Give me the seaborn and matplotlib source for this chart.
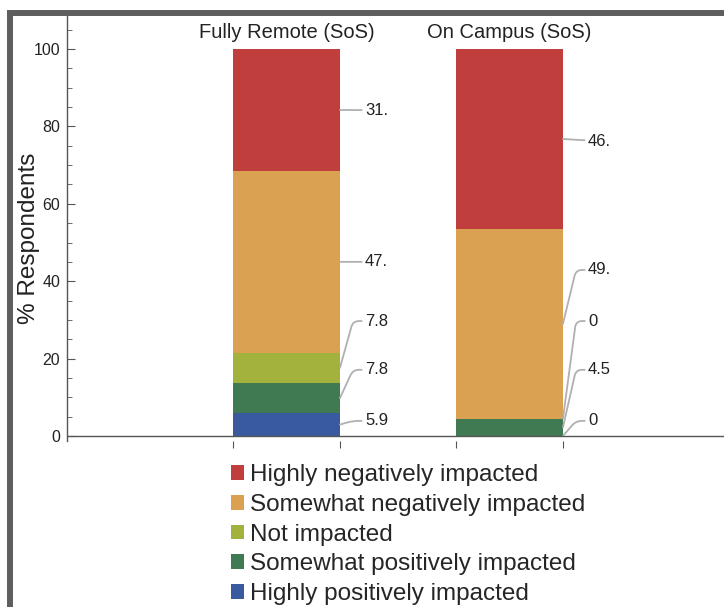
import math
import numpy as np
import pandas as pd
import matplotlib
matplotlib.use("Agg")
import matplotlib.pyplot as plt
from matplotlib.patches import Patch, Rectangle
import seaborn as sns

# ---------------- data ----------------
groups = ["Fully Remote (SoS)", "On Campus (SoS)"]
levels = ["Highly positively impacted", "Somewhat positively impacted", "Not impacted",
          "Somewhat negatively impacted", "Highly negatively impacted"]
remote_values = [5.9, 7.8, 7.8, 47.0, 31.5]
campus_values = [0.0, 4.5, 0.0, 49.0, 46.5]
remote_labels = ["5.9", "7.8", "7.8", "47.", "31."]
campus_labels = ["0", "4.5", "0", "49.", "46."]
y_ticks = [0, 20, 40, 60, 80, 100]

# ---------------- style / layout ----------------
level_colors = ["#3A5AA0", "#3F7A52", "#A3B23C", "#DBA152", "#C03E3B"]
# label vertical slots (layout positions for the callouts, in axis units)
remote_label_y = [3.9, 17.1, 29.7, 45.0, 84.2]
campus_label_y = [3.9, 17.1, 29.7, 42.9, 76.2]

sns.set_style("white")
plt.rcParams["font.family"] = ["Liberation Sans", "DejaVu Sans"]

W, H = 724, 607
fig = plt.figure(figsize=(W / 100, H / 100), dpi=100)
ax_left_px, ax_bottom_px, ax_top_px = 67, 440.6, 15
ax = fig.add_axes([ax_left_px / W, 1 - ax_bottom_px / H, 1 - ax_left_px / W,
                   (ax_bottom_px - ax_top_px) / H])

# long table
rows = []
for g, vals in zip(groups, [remote_values, campus_values]):
    cum = 0.0
    for lvl, v in zip(levels, vals):
        bottom = cum
        cum += v
        rows.append(dict(group=g, level=lvl, value=v, bottom=bottom, top=cum))
df = pd.DataFrame(rows)

bar_w = 0.48
# draw stacked bars: top layers first, each lower cumulative layer drawn on top
for lvl, col in reversed(list(zip(levels, level_colors))):
    sub = df[df.level == lvl]
    sns.barplot(data=sub, x="group", y="top", order=groups, color=col,
                saturation=1, width=bar_w, errorbar=None, linewidth=0, ax=ax)

ymin, ymax = -1.2, 108.8
ax.set_ylim(ymin, ymax)
xmin = -0.984
xmax = 1.962
ax.set_xlim(xmin, xmax)

axis_col = "#555555"
for s in ["top", "right", "bottom"]:
    ax.spines[s].set_visible(False)
ax.spines["left"].set_color(axis_col)
ax.spines["left"].set_linewidth(1.0)
ax.axhline(0, color=axis_col, lw=1.0, zorder=5)

ax.set_yticks(y_ticks)
ax.set_yticklabels([str(t) for t in y_ticks])
ax.yaxis.set_minor_locator(matplotlib.ticker.MultipleLocator(5))
ax.tick_params(axis="y", which="major", direction="in", length=6, width=0.8,
               color=axis_col, labelsize=11.5, labelcolor="#222222", pad=5, left=True)
ax.tick_params(axis="y", which="minor", direction="in", length=3.5, width=0.6,
               color=axis_col, left=True)

edges = []
for i in range(len(groups)):
    edges += [i - bar_w / 2, i + bar_w / 2]
ax.set_xticks(edges)
ax.set_xticklabels([""] * len(edges))
ax.tick_params(axis="x", which="major", direction="out", length=5, width=0.8,
               color=axis_col, bottom=True)
ax.set_xlabel("")
ax.set_ylabel("% Respondents", fontsize=17.5, color="#222222")
ax.yaxis.set_label_coords((40 - ax_left_px) / (W - ax_left_px),
                          (ax_bottom_px - 238) / (ax_bottom_px - ax_top_px))
ax.grid(False)

# group titles above bars
for i, g in enumerate(groups):
    ax.text(i, 104.4, g, ha="center", va="center", fontsize=14.5, color="#222222",
            clip_on=False)

# callouts
px_x = (xmax - xmin) / (W - ax_left_px)            # data units per pixel (x)
px_y = (ymax - ymin) / (ax_bottom_px - ax_top_px)  # data units per pixel (y)
for i, (g, labs, lys) in enumerate(zip(groups, [remote_labels, campus_labels],
                                       [remote_label_y, campus_label_y])):
    sub = df[df.group == g].reset_index(drop=True)
    for j in range(len(sub)):
        ax_x = i + bar_w / 2
        ay = sub.bottom[j] + sub.value[j] / 2
        ly = lys[j]
        lx = ax_x + 25 * px_x
        dy_px = (ly - ay) / px_y
        if abs(dy_px) < 3:
            cs = "arc3"
        else:
            ang = math.degrees(math.atan2(dy_px, 13))
            cs = f"angle,angleA=0,angleB={ang:.2f},rad=6"
        ax.annotate(labs[j], xy=(ax_x, ay), xytext=(lx, ly), textcoords="data",
                    ha="left", va="center", fontsize=12, color="#222222",
                    annotation_clip=False,
                    arrowprops=dict(arrowstyle="-", color="#b0b0b0", lw=1.3,
                                    connectionstyle=cs, shrinkA=0, shrinkB=0))

# legend (top-to-bottom order)
handles = [Patch(facecolor=c, edgecolor="none") for c in reversed(level_colors)]
fig.legend(handles, list(reversed(levels)), loc="upper left",
           bbox_to_anchor=(231 / W, 1 - 464 / H), frameon=False, fontsize=17.5,
           handlelength=0.55, handleheight=0.55, handletextpad=0.22, labelspacing=0.32,
           borderaxespad=0, borderpad=0)

# outer frame
fig.add_artist(Rectangle((9.5 / W, -0.2), 2.0, 1.2 - 12.5 / H, transform=fig.transFigure,
                         fill=False, edgecolor="#5e5e5e", lw=4.3))

fig.savefig("out.png", dpi=100)
